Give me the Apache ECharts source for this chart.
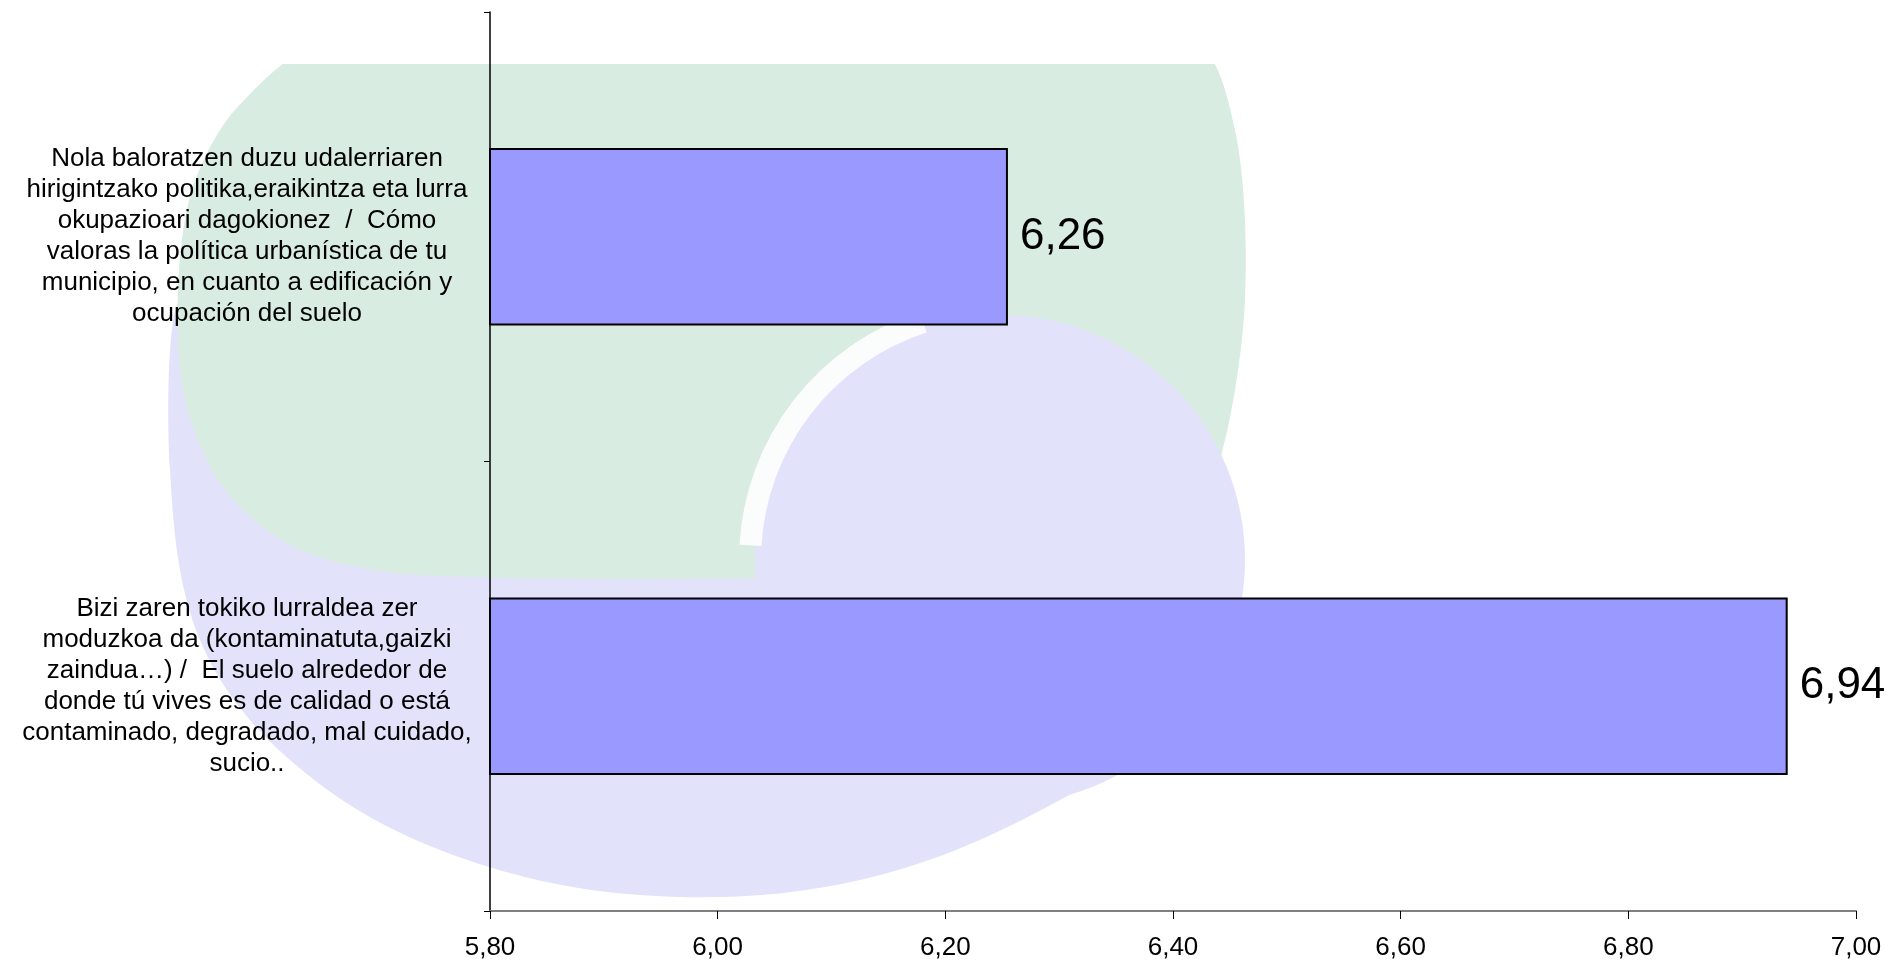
<!DOCTYPE html>
<html>
<head>
<meta charset="utf-8">
<script src="https://cdn.jsdelivr.net/npm/echarts@6/dist/echarts.min.js"></script>
<style>
html,body{margin:0;padding:0;background:#fff;}
#chart{width:1886px;height:961px;}
</style>
</head>
<body>
<div id="chart"></div>
<script>
var categories = [
  "Nola baloratzen duzu udalerriaren\nhirigintzako politika,eraikintza eta lurra\nokupazioari dagokionez  /  Cómo\nvaloras la política urbanística de tu\nmunicipio, en cuanto a edificación y\nocupación del suelo",
  "Bizi zaren tokiko lurraldea zer\nmoduzkoa da (kontaminatuta,gaizki\nzaindua…) /  El suelo alrededor de\ndonde tú vives es de calidad o está\ncontaminado, degradado, mal cuidado,\nsucio.."
];
var values = [6.255, 6.94];
var valueLabels = ["6,26", "6,94"];
var xTicks = ["5,80", "6,00", "6,20", "6,40", "6,60", "6,80", "7,00"];

var chart = echarts.init(document.getElementById('chart'), null, {renderer: 'canvas'});
var font = 'Liberation Sans, Arial, sans-serif';
var option = {
  animation: false,
  backgroundColor: '#ffffff',
  graphic: [
    {type: 'polygon', z: -10, silent: true,
     shape: {smooth: 0.35, points: [[180,300],[230,420],[330,520],[500,560],[800,560],[1100,540],[1200,580],[1190,700],[1060,800],[860,880],[640,895],[440,850],[290,760],[200,640],[170,470]]},
     style: {fill: '#E2E2FA'}},
    {type: 'polygon', z: -9, silent: true,
     shape: {smooth: 0.3, points: [[330,40],[760,40],[1190,40],[1235,130],[1245,300],[1220,460],[1170,570],[800,578],[420,575],[300,550],[225,490],[185,400],[178,290],[192,190],[235,110]]},
     style: {fill: '#D8ECE1'}},
    {type: 'circle', z: -8, silent: true, shape: {cx: 1000, cy: 560, r: 245}, style: {fill: '#E2E2FA'}},
    {type: 'arc', z: -7, silent: true, shape: {cx: 1000, cy: 560, r: 250, startAngle: 3.2, endAngle: 4.4}, style: {stroke: '#ffffff', lineWidth: 22, fill: null, opacity: 0.9}},
    {type: 'rect', z: -6, silent: true, shape: {x: 0, y: 0, width: 1886, height: 64}, style: {fill: '#ffffff'}}
  ],
  grid: {left: 490, right: 30, top: 12, bottom: 49, containLabel: false},
  xAxis: {
    type: 'value', min: 5.8, max: 7.0, interval: 0.2,
    axisLine: {show: true, lineStyle: {color: '#808080', width: 2}},
    axisTick: {show: true, length: 8, lineStyle: {color: '#000', width: 1}},
    splitLine: {show: false},
    axisLabel: {
      fontFamily: font, fontSize: 26, color: '#000', margin: 24,
      formatter: function (v) { var i = Math.round((v - 5.8) / 0.2); return xTicks[i] || ''; }
    }
  },
  yAxis: {
    type: 'category', data: categories, inverse: true,
    axisLine: {show: true, lineStyle: {color: '#000', width: 1.5}},
    axisTick: {show: true, length: 6, lineStyle: {color: '#000'}},
    axisLabel: {fontFamily: font, fontSize: 26, color: '#000', align: 'center', margin: 243, lineHeight: 31}
  },
  series: [{
    type: 'bar', data: values, barWidth: '39.5%',
    itemStyle: {color: '#9999FF', borderColor: '#000', borderWidth: 2},
    label: {
      show: true, position: 'right', distance: 12,
      fontFamily: font, fontSize: 44, color: '#000',
      formatter: function (p) { return valueLabels[p.dataIndex]; }
    }
  }]
};
chart.setOption(option);
</script>
</body>
</html>
